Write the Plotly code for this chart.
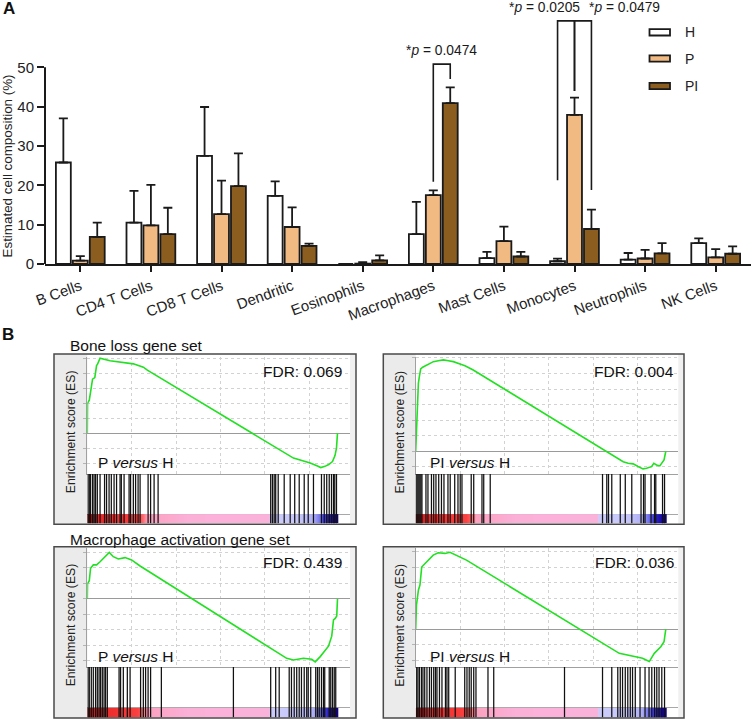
import plotly.graph_objects as go

W, H = 753, 719
FONT = "Arial, Liberation Sans, Helvetica, sans-serif"
INK = "#1a1a1a"

# ---------------- Panel A data ----------------
CATEGORIES = ["B Cells", "CD4 T Cells", "CD8 T Cells", "Dendritic", "Eosinophils",
              "Macrophages", "Mast Cells", "Monocytes", "Neutrophils", "NK Cells"]
GROUPS = ["H", "P", "PI"]
H_MEAN = [25.8, 10.5, 27.5, 17.3, 0.0, 7.6, 1.5, 0.7, 1.1, 5.3]
H_ERR_TOP = [37.0, 18.6, 39.9, 21.0, 0.0, 15.8, 3.1, 1.35, 2.8, 6.5]
P_MEAN = [0.85, 9.8, 12.7, 9.4, 0.1, 17.5, 5.8, 37.9, 1.4, 1.7]
P_ERR_TOP = [2.0, 20.1, 21.2, 14.4, 0.5, 18.7, 9.5, 42.3, 3.6, 3.8]
PI_MEAN = [6.9, 7.6, 19.8, 4.6, 0.9, 40.9, 1.9, 8.9, 2.7, 2.6]
PI_ERR_TOP = [10.5, 14.3, 28.1, 5.2, 2.2, 44.9, 3.1, 13.8, 5.3, 4.5]
Y_TICKS = [0, 10, 20, 30, 40, 50]
Y_LABEL = "Estimated cell composition (%)"

SIG_CATEGORY = [5, 7, 7]
SIG_GROUP_A = [1, 0, 1]
SIG_GROUP_B = [2, 1, 2]
SIG_TOP = [50.8, 61.8, 61.8]
SIG_LOW_A = [20.9, 21.3, 44.0]
SIG_LOW_B = [47.0, 44.0, 18.8]
SIG_TEXT = ["*<i>p</i> = 0.0474", "*<i>p</i> = 0.0205", "*<i>p</i> = 0.0479"]

# ---------------- Panel B data ----------------
GENE_SETS = ["Bone loss gene set", "Macrophage activation gene set"]
COMPARISONS = ["P", "PI"]
FDR_VALUES = [["0.069", "0.004"], ["0.439", "0.036"]]

BONE_P_RANK = [0, 0.1, 0.8, 1.3, 2.1, 3.0, 3.7, 4.1, 4.8, 5.1, 9.1, 14.4, 18.4, 22.4, 24.0,
               82.4, 86.0, 89.1, 92.0, 93.3, 95.0, 96.5, 98.0, 99.0, 99.6, 100]
BONE_P_ES = [0, 0.20, 0.22, 0.29, 0.36, 0.37, 0.45, 0.46, 0.49, 0.50, 0.483, 0.47, 0.462, 0.44, 0.42,
             -0.167, -0.185, -0.20, -0.22, -0.23, -0.222, -0.21, -0.19, -0.15, -0.10, 0]
BONE_P_HITS = [0.3, 0.8, 1.3, 2.1, 2.7, 3.3, 4.0, 5.1, 6.9, 7.7, 8.7, 9.6, 10.7, 11.7, 13.1, 13.6,
               14.7, 16.7, 17.3, 18.4, 19.3, 20.3, 21.1, 24.3, 25.3, 26.7, 28.3, 73.3, 74.0, 74.7,
               75.3, 76.3, 78.7, 81.1, 82.9, 84.7, 86.7, 88.3, 90.4, 93.6, 94.7, 95.7, 96.7, 97.6,
               98.4, 98.9, 99.6]

BONE_PI_RANK = [0, 0.27, 0.67, 1.07, 1.46, 2.0, 2.8, 3.73, 5.06, 7.06, 9.05, 11.05, 13.05, 15.05,
                17.7, 19.7, 23.0, 82.96, 84.95, 86.95, 88.9, 90.9, 92.3, 94.3, 95.2, 96.3, 97.6,
                98.7, 99.3, 100]
BONE_PI_ES = [0, 0.137, 0.33, 0.437, 0.48, 0.529, 0.54, 0.548, 0.561, 0.576, 0.582, 0.587, 0.582,
              0.576, 0.561, 0.55, 0.522, -0.067, -0.077, -0.081, -0.098, -0.113, -0.109, -0.099,
              -0.077, -0.088, -0.094, -0.066, -0.056, 0]
BONE_PI_HITS = [0.1, 0.5, 0.9, 1.3, 1.7, 2.1, 2.5, 4.1, 4.9, 6.3, 7.2, 8.1, 9.2, 10.3, 11.3, 12.9,
                13.8, 15.6, 16.9, 17.8, 18.5, 22.2, 23.2, 26.5, 27.2, 29.8, 74.7, 76.4, 77.1, 78.4,
                81.8, 83.8, 86.4, 90.1, 91.1, 91.7, 94.1, 95.5, 96.0, 98.7, 99.5]

MAC_P_RANK = [0, 0.1, 0.8, 1.3, 2.4, 3.7, 5.1, 6.4, 7.7, 8.8, 10.4, 12.4, 15.1, 17.7, 21.1,
              79.7, 82.4, 86.4, 89.7, 91.1, 93.1, 95.1, 96.4, 97.7, 98.4, 99.1, 99.7, 100]
MAC_P_ES = [0, 0.10, 0.118, 0.198, 0.22, 0.22, 0.24, 0.26, 0.28, 0.30, 0.273, 0.258, 0.267, 0.252,
            0.213, -0.383, -0.394, -0.383, -0.389, -0.406, -0.372, -0.329, -0.305, -0.24, -0.135,
            -0.125, -0.11, 0]
MAC_P_HITS = [0.3, 0.8, 1.6, 2.4, 3.3, 4.0, 4.7, 5.3, 6.0, 6.7, 7.3, 8.0, 12.7, 13.3, 14.4, 16.0,
              17.1, 21.3, 22.4, 23.3, 24.3, 25.3, 29.6, 58.4, 73.3, 75.3, 76.7, 80.7, 81.6, 82.7,
              83.7, 84.7, 85.6, 86.7, 87.7, 88.3, 89.3, 91.3, 92.0, 92.7, 93.6, 94.4, 94.9, 96.7,
              97.3, 98.0, 98.7, 99.3]

MAC_PI_RANK = [0, 0.3, 1.1, 1.7, 2.4, 3.7, 5.7, 7.0, 9.0, 11.7, 13.7, 16.3, 20.3, 81.4, 86.7,
               90.7, 93.4, 95.4, 98.0, 99.3, 100]
MAC_PI_ES = [0, 0.155, 0.252, 0.284, 0.40, 0.42, 0.456, 0.477, 0.492, 0.488, 0.495, 0.477, 0.445,
             -0.157, -0.178, -0.189, -0.21, -0.157, -0.114, -0.082, 0]
MAC_PI_HITS = [0.4, 0.9, 1.5, 2.3, 2.9, 3.6, 4.5, 5.5, 6.3, 7.2, 7.9, 8.5, 9.5, 10.5, 11.9, 12.5,
               13.2, 15.8, 19.6, 20.5, 21.4, 22.2, 23.2, 24.1, 28.9, 31.2, 59.5, 74.7, 78.4, 80.8,
               81.8, 82.7, 83.8, 84.8, 85.8, 86.7, 87.8, 89.7, 91.7, 93.3, 94.4, 95.5, 96.4, 97.3,
               98.4, 99.5]

# ranked-list metric shown as the colour strip
CB_RANK = [0, 1.5, 4, 10, 16, 20, 22.5, 24, 40, 72.5, 73.2, 85, 90, 93, 96, 98.5, 99.7]
CB_METRIC = [1.0, 0.92, 0.85, 0.82, 0.78, 0.72, 0.5, 0.28, 0.2, 0.08, -0.08, -0.18, -0.3, -0.55,
             -0.8, -0.95, -1.0]

# ---------------- helpers / styles ----------------
def xdom(a, b):
    return [a / W, b / W]


def ydom(top, bottom):
    return [1 - bottom / H, 1 - top / H]


def px(x):
    return x / W


def py(y):
    return 1 - y / H


FILL = {"H": "#ffffff", "P": "#f2ba83", "PI": "#8b5e20"}
BARGAP = 0.28
BARGROUPGAP = 0.12
SLOT = (1 - BARGAP) / len(GROUPS)

fig = go.Figure()
layout = {}
shapes = []
annotations = []


def note(x, y, text, size, xanchor="center", yanchor="middle", angle=0, color="#111", ref="paper", **kw):
    d = dict(x=x, y=y, xref=ref if ref == "paper" else "x", yref=ref if ref == "paper" else "y",
             text=text, showarrow=False, xanchor=xanchor, yanchor=yanchor, textangle=angle,
             font=dict(size=size, color=color, family=FONT))
    d.update(kw)
    annotations.append(d)


# ---------------- Panel A ----------------
idx = list(range(len(CATEGORIES)))
for g, mean, top in zip(GROUPS, [H_MEAN, P_MEAN, PI_MEAN], [H_ERR_TOP, P_ERR_TOP, PI_ERR_TOP]):
    fig.add_trace(go.Bar(
        x=idx, y=mean, name=g,
        marker=dict(color=FILL[g], line=dict(color=INK, width=1.8)),
        error_y=dict(type="data", symmetric=False,
                     array=[t - m for t, m in zip(top, mean)],
                     arrayminus=[0] * len(mean), color=INK, thickness=1.8, width=4.5),
        xaxis="x", yaxis="y", showlegend=False, hoverinfo="skip"))

SIG_XSHIFT = [0, -22, 42]
for i, (c, a, b, top, la, lb, txt) in enumerate(zip(SIG_CATEGORY, SIG_GROUP_A, SIG_GROUP_B, SIG_TOP,
                                                     SIG_LOW_A, SIG_LOW_B, SIG_TEXT)):
    xa = c + (a - 1) * SLOT
    xb = c + (b - 1) * SLOT
    fig.add_trace(go.Scatter(x=[xa, xa, xb, xb], y=[la, top, top, lb], mode="lines",
                             line=dict(color=INK, width=1.6), xaxis="x", yaxis="y",
                             showlegend=False, hoverinfo="skip"))
    note((xa + xb) / 2, top, txt, 13.8, ref="data", yshift=13.5, xshift=SIG_XSHIFT[i], color=INK)

layout["xaxis"] = dict(domain=xdom(45, 751), range=[-0.5, len(CATEGORIES) - 0.5], anchor="y",
                       tickvals=idx, ticktext=CATEGORIES, tickangle=-20,
                       ticks="outside", ticklen=6, tickwidth=1.8, tickcolor=INK,
                       showline=True, linewidth=2, linecolor=INK, showgrid=False, zeroline=False,
                       tickfont=dict(size=15, color="#222", family=FONT))
layout["yaxis"] = dict(domain=ydom(0, 264), range=[0, 67.1], anchor="x",
                       tickvals=Y_TICKS, ticks="outside", ticklen=7, tickwidth=1.8, tickcolor=INK,
                       showline=False, showgrid=False, zeroline=False,
                       tickfont=dict(size=15, color="#222", family=FONT))
shapes.append(dict(type="line", xref="paper", yref="y", x0=px(45), x1=px(45), y0=0, y1=Y_TICKS[-1],
                   line=dict(color=INK, width=2)))
note(px(7), py(166.5), Y_LABEL, 13.4, angle=-90, color="#222")

# manual legend
LEG_Y = [32.3, 58.5, 86.0]
for g, ly in zip(GROUPS, LEG_Y):
    shapes.append(dict(type="rect", xref="paper", yref="paper", x0=px(649.5), x1=px(670),
                       y0=py(ly + 3.2), y1=py(ly - 3.2), fillcolor=FILL[g],
                       line=dict(color=INK, width=1.8)))
    note(px(683), py(ly), g, 14, xanchor="left", color="#222")

note(px(1), py(8), "<b>A</b>", 17, xanchor="left")
note(px(0), py(334), "<b>B</b>", 17, xanchor="left")

# ---------------- Panel B ----------------
PANEL_DATA = [
    [(BONE_P_RANK, BONE_P_ES, BONE_P_HITS), (BONE_PI_RANK, BONE_PI_ES, BONE_PI_HITS)],
    [(MAC_P_RANK, MAC_P_ES, MAC_P_HITS), (MAC_PI_RANK, MAC_PI_ES, MAC_PI_HITS)],
]
ES_RANGES = [[(-0.273, 0.511), (-0.146, 0.609)], [(-0.439, 0.329), (-0.245, 0.523)]]
COL_OUTER = [(54, 356), (383.3, 684)]
COL_INNER = [(87.3, 350), (415.7, 678.3)]
ROW_OUTER = [(354, 524.3), (546.7, 718)]
ROW_ES = [(356.5, 474), (548, 667)]
ROW_HITS = [(474, 523.5), (667, 717.5)]
ROW_TITLE_Y = [345, 539]
ROW_FDR_Y = [371, 562.7]
ROW_COMP_Y = [462.7, 656.7]
COL_FDR_X = [344, 676]
COL_COMP_X = [96, 428.3]
RANK_RANGE = [0, 105]
GRID_STEP = 17.73
CB_FRACTION = 0.19
CB_SCALE = [[0.0, "#12008c"], [0.08, "#2418c0"], [0.2, "#5a5ae8"], [0.33, "#aaaaf5"],
            [0.42, "#c8c8fb"], [0.4999, "#cfcffb"], [0.5001, "#fbb4dc"], [0.6, "#fbb0d8"],
            [0.7, "#ff8c9c"], [0.8, "#ff5555"], [0.9, "#f53535"], [1.0, "#b40000"]]
GRID_COLOR = "#d2d2d2"

n = 2
for r in range(2):
    note(px(68), py(ROW_TITLE_Y[r]), GENE_SETS[r], 15.5, xanchor="left")
    for c in range(2):
        rank, es, hits = PANEL_DATA[r][c]
        xe, ye, xh, yh = f"x{n}", f"y{n}", f"x{n + 1}", f"y{n + 1}"
        ox0, ox1 = COL_OUTER[c]
        oy0, oy1 = ROW_OUTER[r]
        ix0, ix1 = COL_INNER[c]
        # frame decoration
        shapes.append(dict(type="rect", xref="paper", yref="paper", layer="below",
                           x0=px(ox0), x1=px(ix0), y0=py(oy1), y1=py(oy0),
                           fillcolor="#ebebeb", line=dict(width=0)))
        shapes.append(dict(type="rect", xref="paper", yref="paper", layer="below",
                           x0=px(ix1), x1=px(ox1), y0=py(oy1), y1=py(oy0),
                           fillcolor="#f0f0f0", line=dict(width=0)))
        shapes.append(dict(type="rect", xref="paper", yref="paper", layer="above",
                           x0=px(ox0), x1=px(ox1), y0=py(oy1), y1=py(oy0),
                           fillcolor="rgba(0,0,0,0)", line=dict(color="#4a4a4a", width=1.5)))

        layout[f"xaxis{n}"] = dict(domain=xdom(ix0, ix1), range=RANK_RANGE, anchor=ye,
                                   showgrid=True, gridcolor=GRID_COLOR, griddash="dot", gridwidth=1,
                                   tick0=0, dtick=GRID_STEP, showticklabels=False, ticks="",
                                   zeroline=False, showline=True, linecolor="#a0a0a0", linewidth=1)
        layout[f"yaxis{n}"] = dict(domain=ydom(*ROW_ES[r]), range=list(ES_RANGES[r][c]), anchor=xe,
                                   showgrid=True, gridcolor=GRID_COLOR, griddash="dot", gridwidth=1,
                                   tick0=0, dtick=0.1, zeroline=True, zerolinecolor="#9a9a9a",
                                   zerolinewidth=1, showline=True, linecolor="#a0a0a0", linewidth=1,
                                   ticks="outside", ticklen=3, tickcolor="#b5b5b5",
                                   showticklabels=False)
        layout[f"xaxis{n + 1}"] = dict(domain=xdom(ix0, ix1), range=RANK_RANGE, anchor=yh,
                                       showgrid=False, showticklabels=False, ticks="",
                                       zeroline=False, showline=False)
        layout[f"yaxis{n + 1}"] = dict(domain=ydom(*ROW_HITS[r]), range=[0, 1], anchor=xh,
                                       showgrid=True, tickvals=[CB_FRACTION], gridcolor="#a8a8a8",
                                       gridwidth=1, showticklabels=False, ticks="",
                                       zeroline=False, showline=False)

        fig.add_trace(go.Heatmap(x=CB_RANK, y=[CB_FRACTION * 0.25, CB_FRACTION * 0.75],
                                 z=[CB_METRIC, CB_METRIC], zmin=-1, zmax=1, colorscale=CB_SCALE,
                                 showscale=False, zsmooth="best", xaxis=xh, yaxis=yh,
                                 hoverinfo="skip"))
        hx, hy = [], []
        for h in hits:
            hx += [h, h, None]
            hy += [0, 1, None]
        fig.add_trace(go.Scatter(x=hx, y=hy, mode="lines", line=dict(color="#111111", width=1.25),
                                 xaxis=xh, yaxis=yh, showlegend=False, hoverinfo="skip"))
        fig.add_trace(go.Scatter(x=rank, y=es, mode="lines", line=dict(color="#22e022", width=1.6),
                                 xaxis=xe, yaxis=ye, showlegend=False, hoverinfo="skip"))

        note(px(COL_FDR_X[c]), py(ROW_FDR_Y[r]), "FDR: " + FDR_VALUES[r][c], 15.5, xanchor="right")
        note(px(COL_COMP_X[c]), py(ROW_COMP_Y[r]), COMPARISONS[c] + " <i>versus</i> H", 15.5,
             xanchor="left")
        note(px(ox0 + 16.5), py((oy0 + oy1) / 2 - 7.5), "Enrichment score (ES)", 12.2, angle=-90,
             color="#222")
        n += 2

fig.update_layout(
    width=W, height=H, margin=dict(l=0, r=0, t=0, b=0),
    paper_bgcolor="white", plot_bgcolor="white", template="none",
    barmode="group", bargap=BARGAP, bargroupgap=BARGROUPGAP,
    showlegend=False, font=dict(family=FONT, color="#222"),
    shapes=shapes, annotations=annotations, **layout)

fig.write_html("out.html", config={"displayModeBar": False},
               post_script="document.body.style.margin='0';document.body.style.overflow='hidden';")
